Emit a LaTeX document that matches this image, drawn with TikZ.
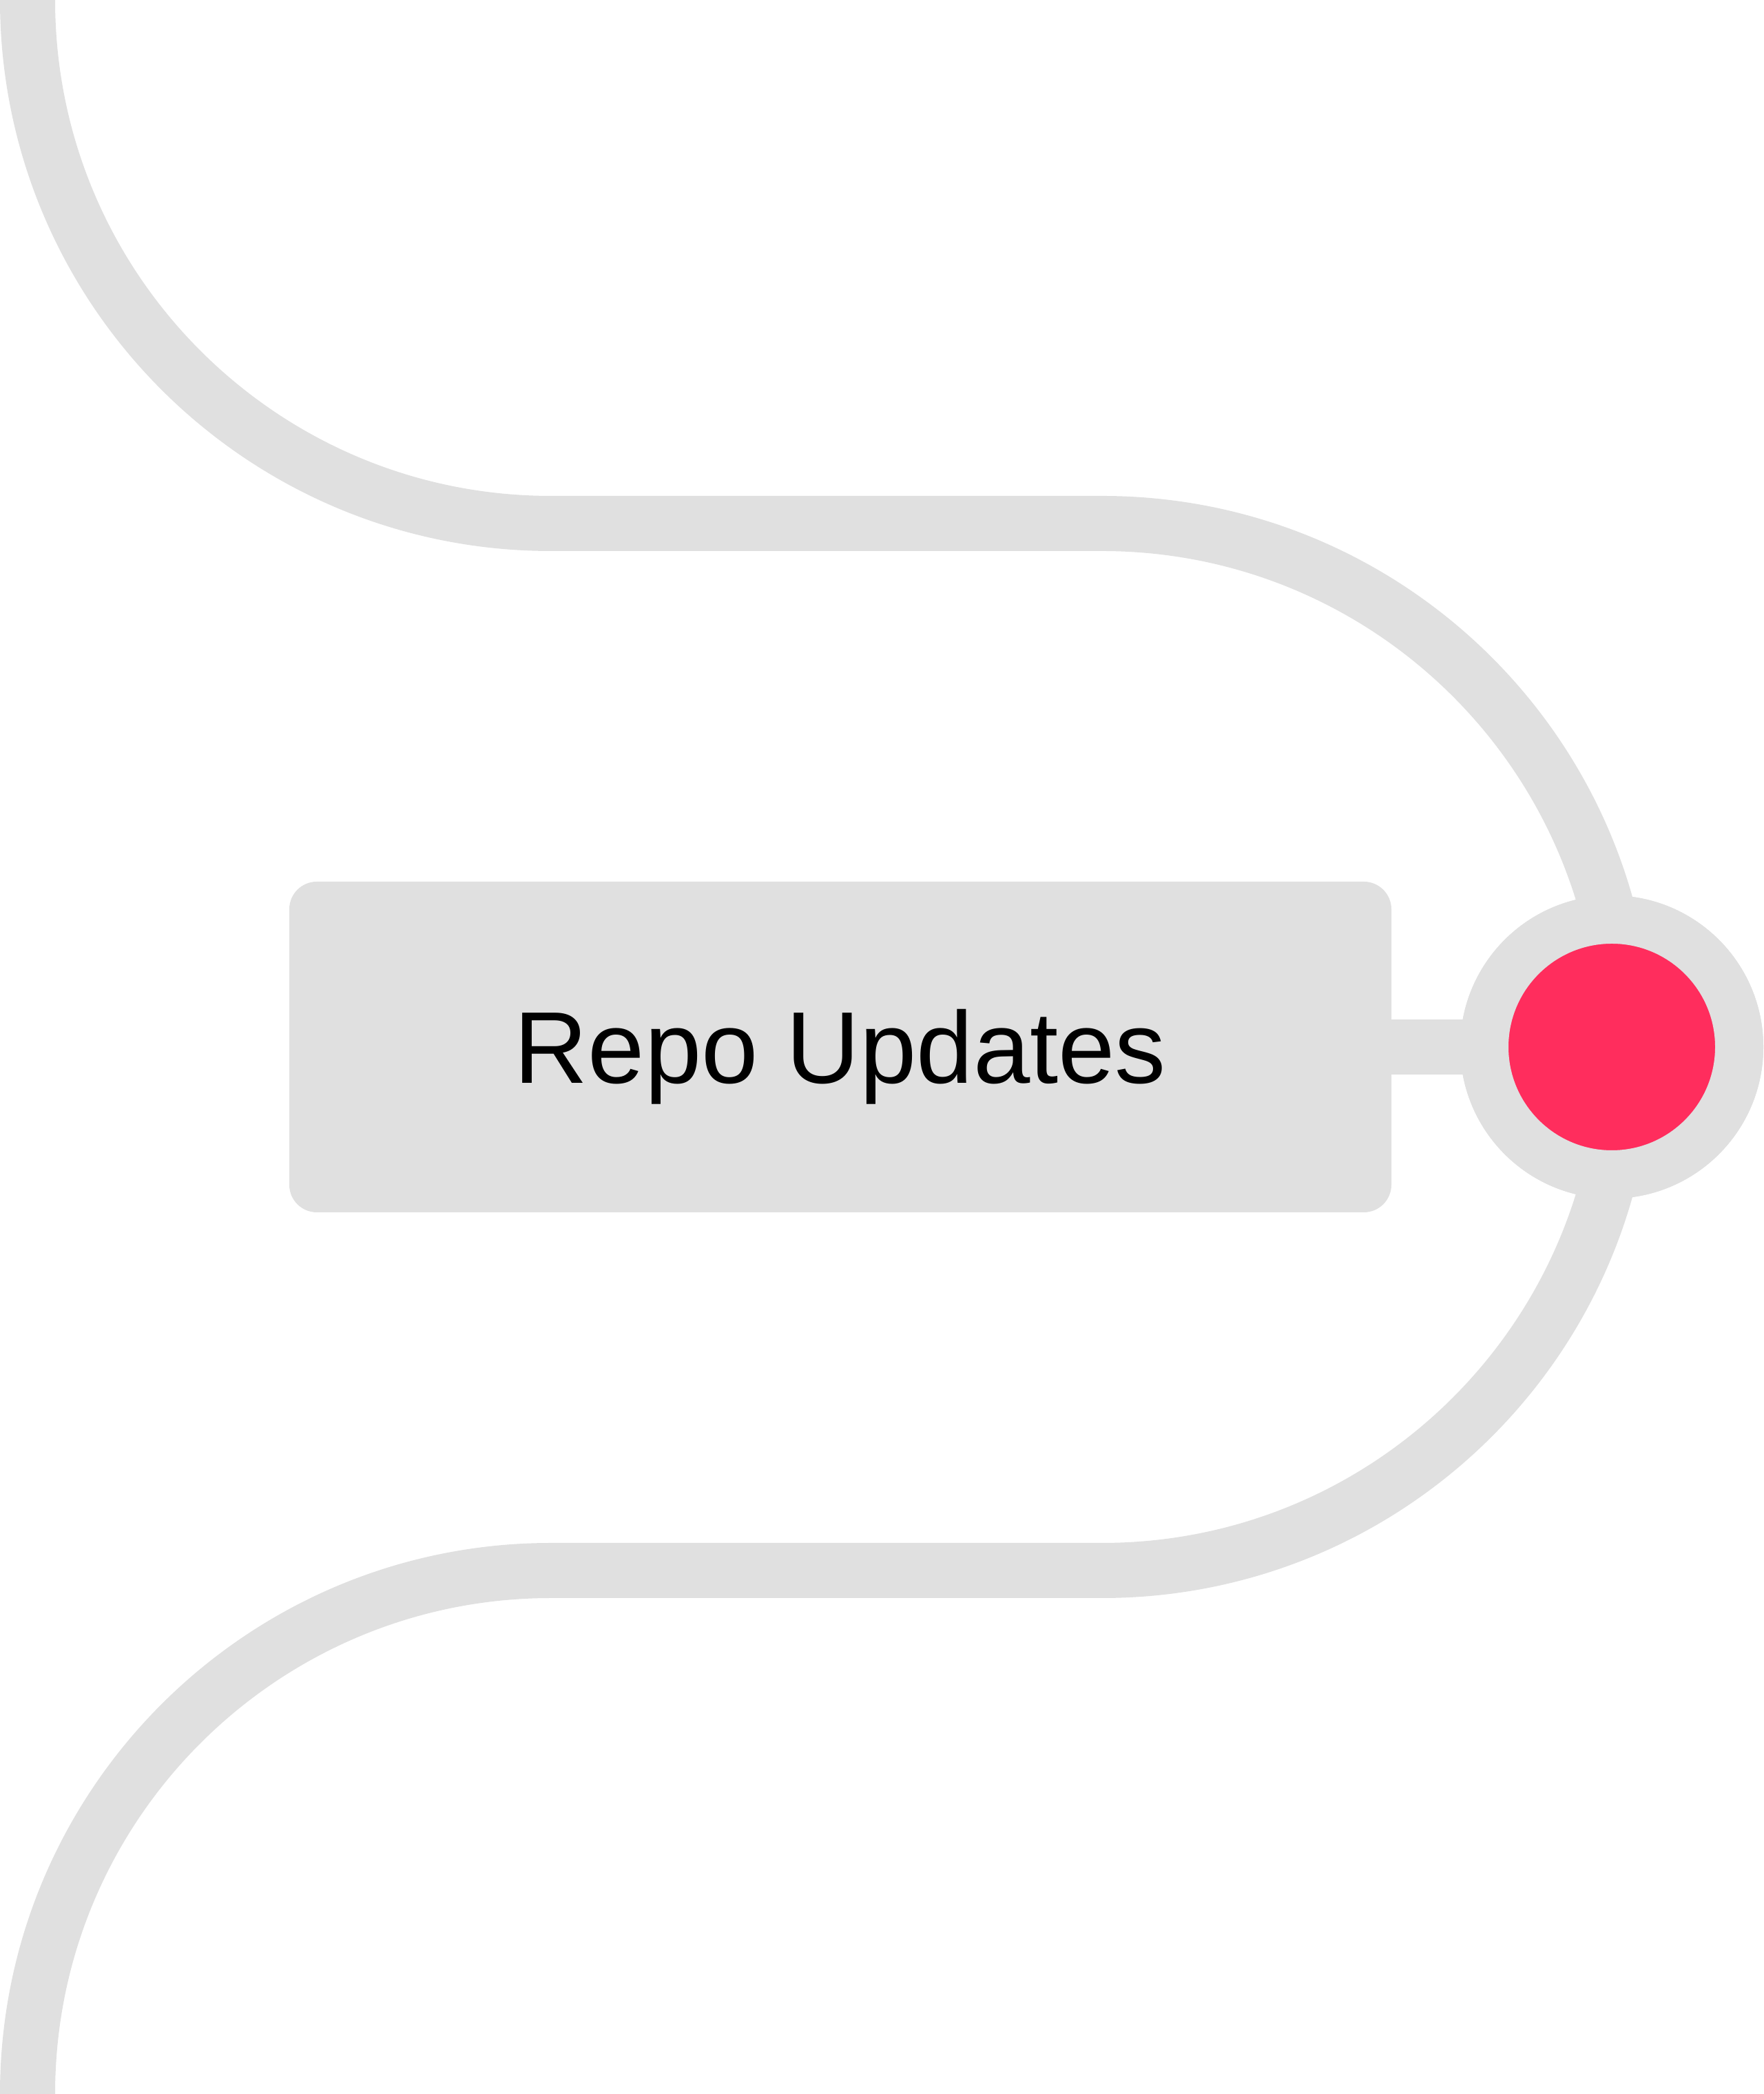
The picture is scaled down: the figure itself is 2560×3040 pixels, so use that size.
\documentclass[tikz,border=0pt]{standalone}
\usepackage{fontspec}
\setmainfont{Liberation Sans}
\definecolor{trackgray}{HTML}{E0E0E0}
\definecolor{dotred}{HTML}{FF2D5D}
\tikzset{
  track/.style={draw=trackgray, line width=80pt},
  labelbox/.style={rectangle, fill=trackgray, rounded corners=40pt, minimum width=1600pt, minimum height=480pt, inner sep=0pt, font=\fontsize{148}{170}\selectfont, text=black},
  milestone/.style={circle, fill=dotred, draw=trackgray, line width=70pt, minimum size=370pt, inner sep=0pt},
}
\begin{document}
\begin{tikzpicture}[x=1pt,y=1pt]
\useasboundingbox[fill=white] (0,0) rectangle (2560,3040);
\coordinate (top) at (40,3040);
\coordinate (bottom) at (40,0);
\draw[track] (top) arc[start angle=180,end angle=270,radius=760]
  -- (1600,2280) arc[start angle=90,end angle=0,radius=760]
  arc[start angle=0,end angle=-90,radius=760]
  -- (800,760) arc[start angle=90,end angle=180,radius=760];
\node[labelbox] (box) at (1220,1520) {\raisebox{-53pt}[0pt][0pt]{Repo Updates}};
\node[milestone] (dot) at (2340,1520) {};
\draw[track] (box.east) -- ([xshift=10pt]dot.west);
\node[milestone] at (dot) {};
\end{tikzpicture}
\end{document}
